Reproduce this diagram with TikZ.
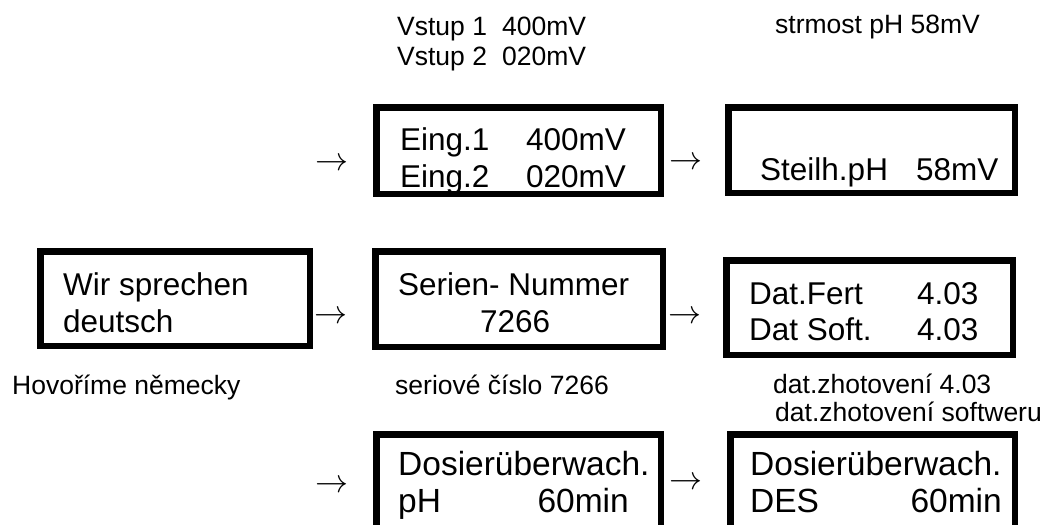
\documentclass[tikz,border=0pt]{standalone}
\usepackage{fix-cm}
\usepackage{fontspec}
\setmainfont{Liberation Sans}
\begin{document}
\begin{tikzpicture}[x=1pt,y=-1pt,
  box/.style={draw, line width=6.5pt, rectangle, anchor=north west, inner sep=0pt, outer sep=0pt},
  txt/.style={anchor=base west, inner sep=0pt, font=\fontsize{31.5}{36}\selectfont},
  txtb/.style={inner sep=0pt, font=\fontsize{33.5}{38}\selectfont},
  lbl/.style={anchor=base west, inner sep=0pt, font=\fontsize{26.5}{30}\selectfont},
  arr/.style={inner sep=0pt, font=\fontsize{33}{36}\selectfont}]
\useasboundingbox (0,0) rectangle (1045,525);
\clip (0,0) rectangle (1045,525);
% boxes
\node[box, minimum width=284.5pt, minimum height=86.5pt] (eing) at (376.25,107.25) {};
\node[box, minimum width=286.5pt, minimum height=85.5pt] (steil) at (728.25,107.25) {};
\node[box, minimum width=269.5pt, minimum height=94.5pt] (wir) at (40.25,251.25) {};
\node[box, minimum width=287.5pt, minimum height=95.5pt] (serien) at (375.25,251.25) {};
\node[box, minimum width=286.5pt, minimum height=94.5pt] (dat) at (726.25,260.25) {};
\node[box, minimum width=284.5pt, minimum height=120pt] (dos1) at (376.25,434.25) {};
\node[box, minimum width=284.5pt, minimum height=120pt] (dos2) at (730.25,434.25) {};
% arrows
\node[arr] (a1) at (332,164) {$\rightarrow$};
\node[arr] (a2) at (686,163) {$\rightarrow$};
\node[arr] (a3) at (331,317) {$\rightarrow$};
\node[arr] (a4) at (685,317) {$\rightarrow$};
\node[arr] (a5) at (332,486) {$\rightarrow$};
\node[arr] (a6) at (686,483) {$\rightarrow$};
% labels above
\node[lbl] (v1a) at (397,35) {Vstup 1};
\node[lbl] (v1b) at (502,35) {400mV};
\node[lbl] (v2a) at (397,65) {Vstup 2};
\node[lbl] (v2b) at (502,65) {020mV};
\node[lbl] (strm) at (775,33) {strmost pH 58mV};
% box texts
\node[txt] (e1a) at (400,150) {Eing.1};
\node[txt] (e1b) at (526,150) {400mV};
\node[txt] (e2a) at (400,187) {Eing.2};
\node[txt] (e2b) at (526,187) {020mV};
\node[txt] (s1a) at (760,180) {Steilh.pH};
\node[txt] (s1b) at (916,180) {58mV};
\node[txt] (w1) at (63,295) {Wir sprechen};
\node[txt] (w2) at (63,332) {deutsch};
\node[txt] (sn1) at (398,295) {Serien- Nummer};
\node[txt] (sn2) at (480,332) {7266};
\node[txt] (d1a) at (749,304) {Dat.Fert};
\node[txt] (d1b) at (917,304) {4.03};
\node[txt] (d2a) at (749,340) {Dat Soft.};
\node[txt] (d2b) at (917,340) {4.03};
\node[txtb, anchor=base west] (o1a) at (398,475) {Dosierüberwach.};
\node[txtb, anchor=base west] (o1b) at (398,512) {pH};
\node[txtb, anchor=base east] (o1c) at (629,512) {60min};
\node[txtb, anchor=base west] (o2a) at (750,475) {Dosierüberwach.};
\node[txtb, anchor=base west] (o2b) at (750,512) {DES};
\node[txtb, anchor=base east] (o2c) at (1002,512) {60min};
% labels below
\node[lbl] (hov) at (12,394) {Hovoříme německy};
\node[lbl] (sc) at (395,394) {seriové číslo 7266};
\node[lbl] (dz1) at (773,393) {dat.zhotovení 4.03};
\node[lbl] (dz2) at (775,421) {dat.zhotovení softweru};
\end{tikzpicture}
\end{document}
